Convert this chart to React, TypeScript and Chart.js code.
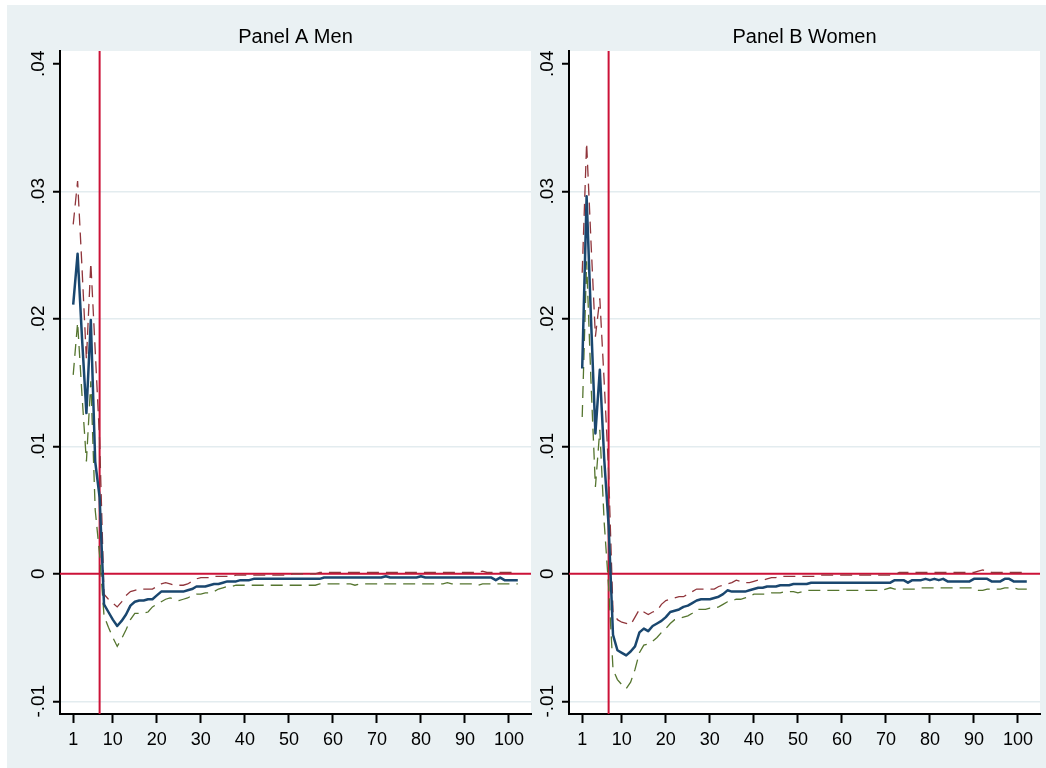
import React, { useEffect, useRef } from 'react';
import { Chart, registerables } from 'chart.js';

Chart.register(...registerables);

// ---------------- data ----------------
const periods = [
  1, 2, 3, 4, 5, 6, 7, 8, 9, 10, 11, 12, 13, 14, 15, 16, 17, 18, 19, 20,
  21, 22, 23, 24, 25, 26, 27, 28, 29, 30, 31, 32, 33, 34, 35, 36, 37, 38, 39, 40,
  41, 42, 43, 44, 45, 46, 47, 48, 49, 50, 51, 52, 53, 54, 55, 56, 57, 58, 59, 60,
  61, 62, 63, 64, 65, 66, 67, 68, 69, 70, 71, 72, 73, 74, 75, 76, 77, 78, 79, 80,
  81, 82, 83, 84, 85, 86, 87, 88, 89, 90, 91, 92, 93, 94, 95, 96, 97, 98, 99, 100,
  101, 102,
];

const menEst = [
  0.0211, 0.0251, 0.0185, 0.0126, 0.0199, 0.0088, 0.0060, -0.0024, -0.0030, -0.0036,
  -0.0041, -0.0037, -0.0032, -0.0025, -0.0022, -0.0021, -0.0021, -0.0020, -0.0020, -0.0017,
  -0.0014, -0.0014, -0.0014, -0.0014, -0.0014, -0.0014, -0.0013, -0.0012, -0.0010, -0.0010,
  -0.0010, -0.0009, -0.0008, -0.0008, -0.0007, -0.0006, -0.0006, -0.0006, -0.0005, -0.0005,
  -0.0005, -0.0004, -0.0004, -0.0004, -0.0004, -0.0004, -0.0004, -0.0004, -0.0004, -0.0004,
  -0.0004, -0.0004, -0.0004, -0.0004, -0.0004, -0.0004, -0.0004, -0.0003, -0.0003, -0.0003,
  -0.0003, -0.0003, -0.0003, -0.0003, -0.0003, -0.0003, -0.0003, -0.0003, -0.0003, -0.0003,
  -0.0003, -0.0002, -0.0003, -0.0003, -0.0003, -0.0003, -0.0003, -0.0003, -0.0003, -0.0002,
  -0.0003, -0.0003, -0.0003, -0.0003, -0.0003, -0.0003, -0.0003, -0.0003, -0.0003, -0.0003,
  -0.0003, -0.0003, -0.0003, -0.0003, -0.0003, -0.0003, -0.0005, -0.0003, -0.0005, -0.0005,
  -0.0005, -0.0005,
];

const menHi = [
  0.0274, 0.0308, 0.0240, 0.0168, 0.0244, 0.0175, 0.0105, -0.0016, -0.0020, -0.0023,
  -0.0026, -0.0022, -0.0017, -0.0014, -0.0013, -0.0012, -0.0012, -0.0012, -0.0012, -0.0010,
  -0.0008, -0.0007, -0.0008, -0.0009, -0.0009, -0.0009, -0.0008, -0.0006, -0.0004, -0.0003,
  -0.0003, -0.0003, -0.0002, -0.0002, -0.0002, -0.0002, -0.0002, -0.0001, -0.0001, -0.0001,
  -0.0001, -0.0001, -0.0001, -0.0001, -0.0001, -0.0001, -0.0001, -0.0001, -0.0001, -0.0001,
  0.0000, 0.0000, 0.0000, 0.0000, 0.0000, 0.0000, 0.0001, 0.0001, 0.0001, 0.0001,
  0.0001, 0.0001, 0.0001, 0.0001, 0.0001, 0.0001, 0.0001, 0.0001, 0.0001, 0.0001,
  0.0001, 0.0001, 0.0001, 0.0001, 0.0001, 0.0001, 0.0001, 0.0001, 0.0001, 0.0001,
  0.0001, 0.0001, 0.0001, 0.0001, 0.0001, 0.0001, 0.0001, 0.0001, 0.0001, 0.0001,
  0.0001, 0.0001, 0.0001, 0.0002, 0.0001, 0.0001, 0.0001, 0.0001, 0.0001, 0.0001,
  0.0001, 0.0001,
];

const menLo = [
  0.0156, 0.0197, 0.0140, 0.0088, 0.0151, 0.0050, 0.0015, -0.0033, -0.0042, -0.0050,
  -0.0057, -0.0051, -0.0044, -0.0036, -0.0031, -0.0031, -0.0031, -0.0030, -0.0026, -0.0024,
  -0.0022, -0.0020, -0.0019, -0.0020, -0.0021, -0.0020, -0.0019, -0.0017, -0.0016, -0.0016,
  -0.0015, -0.0015, -0.0014, -0.0012, -0.0011, -0.0010, -0.0010, -0.0009, -0.0009, -0.0009,
  -0.0009, -0.0009, -0.0009, -0.0009, -0.0009, -0.0009, -0.0009, -0.0009, -0.0009, -0.0009,
  -0.0009, -0.0009, -0.0009, -0.0009, -0.0009, -0.0009, -0.0008, -0.0008, -0.0008, -0.0008,
  -0.0008, -0.0008, -0.0008, -0.0008, -0.0009, -0.0008, -0.0008, -0.0008, -0.0008, -0.0008,
  -0.0008, -0.0008, -0.0008, -0.0008, -0.0008, -0.0008, -0.0008, -0.0008, -0.0008, -0.0008,
  -0.0008, -0.0008, -0.0008, -0.0008, -0.0008, -0.0007, -0.0008, -0.0008, -0.0008, -0.0008,
  -0.0008, -0.0008, -0.0009, -0.0008, -0.0008, -0.0008, -0.0008, -0.0008, -0.0008, -0.0008,
  -0.0008, -0.0008,
];

const womenEst = [
  0.0161, 0.0296, 0.0200, 0.0110, 0.0160, 0.0090, 0.0038, -0.0048, -0.0060, -0.0062,
  -0.0064, -0.0061, -0.0057, -0.0046, -0.0043, -0.0045, -0.0041, -0.0039, -0.0037, -0.0034,
  -0.0030, -0.0029, -0.0028, -0.0026, -0.0025, -0.0023, -0.0021, -0.0020, -0.0020, -0.0020,
  -0.0019, -0.0018, -0.0016, -0.0013, -0.0014, -0.0014, -0.0014, -0.0014, -0.0013, -0.0012,
  -0.0011, -0.0011, -0.0010, -0.0010, -0.0010, -0.0009, -0.0009, -0.0009, -0.0008, -0.0008,
  -0.0008, -0.0008, -0.0007, -0.0007, -0.0007, -0.0007, -0.0007, -0.0007, -0.0007, -0.0007,
  -0.0007, -0.0007, -0.0007, -0.0007, -0.0007, -0.0007, -0.0007, -0.0007, -0.0007, -0.0007,
  -0.0007, -0.0005, -0.0005, -0.0005, -0.0007, -0.0005, -0.0005, -0.0005, -0.0004, -0.0005,
  -0.0004, -0.0005, -0.0004, -0.0006, -0.0006, -0.0006, -0.0006, -0.0006, -0.0006, -0.0004,
  -0.0004, -0.0004, -0.0004, -0.0006, -0.0006, -0.0006, -0.0004, -0.0004, -0.0006, -0.0006,
  -0.0006, -0.0006,
];

const womenHi = [
  0.0236, 0.0338, 0.0260, 0.0186, 0.0216, 0.0150, 0.0080, -0.0030, -0.0036, -0.0038,
  -0.0039, -0.0040, -0.0034, -0.0028, -0.0030, -0.0032, -0.0030, -0.0029, -0.0024, -0.0021,
  -0.0020, -0.0019, -0.0018, -0.0018, -0.0016, -0.0014, -0.0012, -0.0012, -0.0012, -0.0012,
  -0.0012, -0.0010, -0.0009, -0.0008, -0.0007, -0.0005, -0.0006, -0.0007, -0.0007, -0.0006,
  -0.0005, -0.0005, -0.0004, -0.0003, -0.0003, -0.0002, -0.0002, -0.0002, -0.0002, -0.0002,
  -0.0002, -0.0002, -0.0002, -0.0002, -0.0001, -0.0001, -0.0001, -0.0001, -0.0001, -0.0001,
  -0.0001, -0.0001, -0.0001, -0.0001, -0.0001, -0.0001, -0.0001, -0.0001, -0.0001, -0.0001,
  -0.0001, -0.0001, 0.0001, 0.0001, 0.0001, 0.0001, 0.0001, 0.0001, 0.0001, 0.0001,
  0.0001, 0.0001, 0.0001, 0.0001, 0.0001, 0.0001, 0.0001, 0.0001, 0.0001, 0.0001,
  0.0002, 0.0003, 0.0002, 0.0001, 0.0001, 0.0001, 0.0001, 0.0001, 0.0001, 0.0001,
  0.0001, 0.0001,
];

const womenLo = [
  0.0123, 0.0245, 0.0150, 0.0068, 0.0113, 0.0040, -0.0010, -0.0075, -0.0083, -0.0087,
  -0.0090, -0.0085, -0.0075, -0.0062, -0.0056, -0.0055, -0.0053, -0.0050, -0.0046, -0.0043,
  -0.0039, -0.0036, -0.0035, -0.0034, -0.0033, -0.0031, -0.0028, -0.0028, -0.0028, -0.0027,
  -0.0027, -0.0026, -0.0024, -0.0022, -0.0021, -0.0020, -0.0020, -0.0019, -0.0018, -0.0016,
  -0.0016, -0.0016, -0.0016, -0.0015, -0.0015, -0.0015, -0.0014, -0.0014, -0.0014, -0.0015,
  -0.0014, -0.0013, -0.0013, -0.0013, -0.0013, -0.0013, -0.0013, -0.0013, -0.0013, -0.0013,
  -0.0013, -0.0013, -0.0013, -0.0013, -0.0013, -0.0013, -0.0013, -0.0013, -0.0013, -0.0012,
  -0.0011, -0.0012, -0.0012, -0.0012, -0.0012, -0.0012, -0.0012, -0.0011, -0.0011, -0.0011,
  -0.0011, -0.0011, -0.0011, -0.0011, -0.0011, -0.0011, -0.0011, -0.0011, -0.0011, -0.0011,
  -0.0013, -0.0013, -0.0012, -0.0012, -0.0012, -0.0012, -0.0011, -0.0011, -0.0011, -0.0012,
  -0.0012, -0.0012,
];

const xTickValues = [1, 10, 20, 30, 40, 50, 60, 70, 80, 90, 100];
const xTickLabels = ['1', '10', '20', '30', '40', '50', '60', '70', '80', '90', '100'];
const yTickValues = [-0.01, 0, 0.01, 0.02, 0.03, 0.04];
const yTickLabels = ['-.01', '0', '.01', '.02', '.03', '.04'];
const refLineX = 7;
const refLineY = 0;
const panelTitles = ['Panel A Men', 'Panel B Women'];

// ---------------- styling ----------------
const FONT = '"Liberation Sans", Arial, Helvetica, sans-serif';
const BG = '#EAF1F3';
const GRID = '#E3ECEF';
const NAVY = '#1A476F';
const MAROON = '#90353B';
const GREEN = '#55752F';
const REFRED = '#CC1238';

const panelPlugin = {
  id: 'panelDeco',
  beforeDraw(chart: any) {
    const { ctx, chartArea: a } = chart;
    ctx.save();
    ctx.fillStyle = '#FFFFFF';
    ctx.fillRect(a.left, a.top, a.right - a.left, a.bottom - a.top);
    ctx.restore();
  },
  beforeDatasetsDraw(chart: any) {
    const { ctx, chartArea: a, scales } = chart;
    const px = scales.x.getPixelForValue(refLineX);
    const py = scales.y.getPixelForValue(refLineY);
    ctx.save();
    ctx.strokeStyle = REFRED;
    ctx.lineWidth = 2;
    ctx.beginPath();
    ctx.moveTo(a.left, py);
    ctx.lineTo(a.right, py);
    ctx.moveTo(px, a.top);
    ctx.lineTo(px, a.bottom);
    ctx.stroke();
    ctx.restore();
  },
  afterDraw(chart: any) {
    const { ctx, chartArea: a, scales } = chart;
    ctx.save();
    ctx.fillStyle = '#000';
    ctx.font = `19px ${FONT}`;
    ctx.textAlign = 'center';
    ctx.textBaseline = 'middle';
    yTickValues.forEach((v, i) => {
      const py = scales.y.getPixelForValue(v);
      ctx.save();
      ctx.translate(a.left - 21, py);
      ctx.rotate(-Math.PI / 2);
      ctx.fillText(yTickLabels[i], 0, 0);
      ctx.restore();
    });
    ctx.restore();
  },
};

function makeConfig(title: string, est: number[], hi: number[], lo: number[], yWidth: number, padRight: number) {
  const pts = (vals: number[]) => periods.map((p, i) => ({ x: p, y: vals[i] }));
  const dashed = { borderWidth: 1.3, borderDash: [12, 7], pointRadius: 0, tension: 0, fill: false };
  return {
    type: 'line',
    data: {
      datasets: [
        { label: 'estimate', data: pts(est), borderColor: NAVY, borderWidth: 2.5, pointRadius: 0, tension: 0, fill: false, borderJoinStyle: 'round', order: 0 },
        { label: 'upper', data: pts(hi), borderColor: MAROON, ...dashed, order: 1 },
        { label: 'lower', data: pts(lo), borderColor: GREEN, ...dashed, order: 2 },
      ],
    },
    options: {
      animation: false,
      responsive: false,
      maintainAspectRatio: false,
      devicePixelRatio: 1,
      events: [],
      layout: { padding: { left: 0, right: padRight, top: 0, bottom: 14 } },
      plugins: {
        legend: { display: false },
        tooltip: { enabled: false },
        title: {
          display: true,
          text: title,
          fullSize: false,
          color: '#000',
          font: { family: FONT, size: 20, weight: 'normal', lineHeight: 1.2 },
          padding: { top: 25, bottom: 2 },
        },
      },
      scales: {
        x: {
          type: 'linear',
          bounds: 'data',
          min: -2,
          max: 105,
          afterBuildTicks: (s: any) => {
            s.ticks = xTickValues.map((v) => ({ value: v }));
          },
          afterFit: (s: any) => {
            s.height = 40;
          },
          ticks: {
            autoSkip: false,
            maxRotation: 0,
            minRotation: 0,
            color: '#000',
            padding: 6,
            font: { family: FONT, size: 18 },
            callback: (_v: any, i: number) => xTickLabels[i],
          },
          grid: { drawOnChartArea: false, drawTicks: true, tickLength: 9, tickColor: '#000', tickWidth: 2 },
          border: { display: true, color: '#000', width: 2 },
        },
        y: {
          type: 'linear',
          bounds: 'data',
          min: -0.011,
          max: 0.041,
          afterBuildTicks: (s: any) => {
            s.ticks = yTickValues.map((v) => ({ value: v }));
          },
          afterFit: (s: any) => {
            s.width = yWidth;
          },
          ticks: { display: false },
          grid: {
            drawOnChartArea: true,
            drawTicks: true,
            tickLength: 7,
            tickColor: '#000',
            tickWidth: 2,
            lineWidth: 1.5,
            color: (c: any) =>
              c.tick && (c.tick.value === 0.04 || c.tick.value === 0) ? 'rgba(0,0,0,0)' : GRID,
          },
          border: { display: true, color: '#000', width: 2 },
        },
      },
    },
    plugins: [panelPlugin],
  };
}

function Panel(props: { config: any; left: number; width: number; height: number }) {
  const ref = useRef<HTMLCanvasElement | null>(null);
  useEffect(() => {
    const chart = new Chart(ref.current as HTMLCanvasElement, props.config);
    return () => chart.destroy();
  }, []);
  return (
    <canvas
      ref={ref}
      width={props.width}
      height={props.height}
      style={{ position: 'absolute', left: props.left, top: 0, width: props.width, height: props.height }}
    />
  );
}

export default function App() {
  const cfgA = makeConfig(panelTitles[0], menEst, menHi, menLo, 60, 4);
  const cfgB = makeConfig(panelTitles[1], womenEst, womenHi, womenLo, 39, 6);
  return (
    <div style={{ position: 'absolute', left: 0, top: 0, width: 1046, height: 768, overflow: 'hidden' }}>
      <div style={{ position: 'absolute', left: 7, top: 5, right: 0, bottom: 0, background: BG }} />
      <Panel config={cfgA} left={0} width={535} height={768} />
      <Panel config={cfgB} left={530} width={516} height={768} />
    </div>
  );
}
